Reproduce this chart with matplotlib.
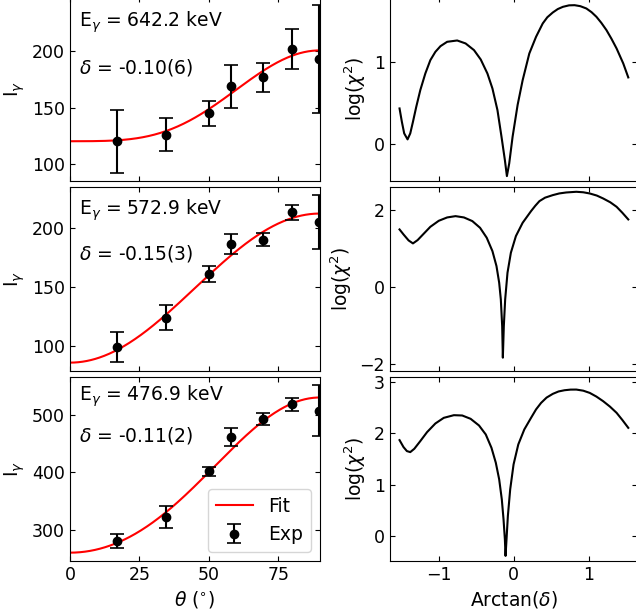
import numpy as np
import matplotlib
matplotlib.use("Agg")
import matplotlib.pyplot as plt

# angular distributions: angles (deg), intensities, errors
theta = [17, 34.5, 50, 58, 69.6, 80, 89.7]

energies = ["642.2", "572.9", "476.9"]
deltas = ["-0.10(6)", "-0.15(3)", "-0.11(2)"]

I_642 = [120, 126, 145, 169, 177, 202, 193]
dI_642 = [28, 14.5, 11, 19, 13, 18, 48]
I_573 = [99.2, 124, 160.8, 186.5, 190.2, 213.3, 205]
dI_573 = [12.7, 10.3, 6.6, 8.8, 5.5, 6.3, 22.6]
I_477 = [281, 322.5, 401.7, 461.2, 491.9, 517.9, 506.4]
dI_477 = [11.6, 19.6, 7.5, 16.2, 10.4, 11.6, 44]

# Legendre fit parameters A0, A0*a2, A0*a4
fit_642 = [163.6, -61.4, 17.8]
fit_573 = [170.1, -84.3, 0.0]
fit_477 = [429.8, -186.6, 17.3]

# chi2 curves: arctan(delta), log(chi2)
atd_642 = [-1.521, -1.490, -1.459, -1.414, -1.378, -1.342, -1.298, -1.244, -1.177, -1.110,
           -1.043, -0.975, -0.886, -0.752, -0.640, -0.528, -0.438, -0.349, -0.282, -0.215,
           -0.161, -0.116, -0.089, -0.058, -0.013, 0.054, 0.121, 0.210, 0.300, 0.389,
           0.450, 0.523, 0.590, 0.658, 0.740, 0.814, 0.890, 0.971, 1.040, 1.105,
           1.170, 1.239, 1.305, 1.374, 1.463, 1.530]
chi_642 = [0.437, 0.275, 0.134, 0.061, 0.134, 0.275, 0.457, 0.660, 0.862, 1.024,
           1.125, 1.194, 1.247, 1.263, 1.227, 1.146, 1.032, 0.862, 0.680, 0.417,
           0.093, -0.190, -0.385, -0.231, 0.093, 0.480, 0.780, 1.105, 1.308, 1.470,
           1.545, 1.603, 1.645, 1.672, 1.690, 1.692, 1.680, 1.652, 1.607, 1.551,
           1.478, 1.389, 1.285, 1.166, 0.984, 0.814]

atd_573 = [-1.521, -1.468, -1.400, -1.342, -1.280, -1.199, -1.110, -0.998, -0.886, -0.774,
           -0.662, -0.550, -0.447, -0.358, -0.282, -0.228, -0.192, -0.170, -0.152, -0.143,
           -0.130, -0.112, -0.081, -0.036, 0.031, 0.121, 0.233, 0.290, 0.345, 0.420,
           0.523, 0.610, 0.702, 0.837, 0.930, 1.016, 1.110, 1.195, 1.290, 1.374,
           1.450, 1.530]
chi_573 = [1.489, 1.359, 1.203, 1.126, 1.212, 1.377, 1.558, 1.714, 1.801, 1.835,
           1.801, 1.706, 1.532, 1.273, 0.926, 0.537, 0.104, -0.329, -1.022, -1.844,
           -1.022, -0.329, 0.364, 0.883, 1.316, 1.662, 1.965, 2.105, 2.225, 2.315,
           2.381, 2.425, 2.450, 2.468, 2.455, 2.424, 2.370, 2.294, 2.195, 2.078,
           1.925, 1.749]

atd_477 = [-1.521, -1.468, -1.423, -1.378, -1.324, -1.244, -1.154, -1.043, -0.931, -0.796,
           -0.685, -0.573, -0.461, -0.371, -0.295, -0.237, -0.192, -0.157, -0.134, -0.116,
           -0.107, -0.094, -0.076, -0.045, 0.000, 0.063, 0.143, 0.233, 0.300, 0.367,
           0.440, 0.523, 0.600, 0.680, 0.760, 0.837, 0.930, 1.016, 1.105, 1.195,
           1.285, 1.374, 1.450, 1.530]
chi_477 = [1.870, 1.734, 1.656, 1.636, 1.701, 1.851, 2.026, 2.195, 2.305, 2.357,
           2.351, 2.286, 2.156, 1.981, 1.721, 1.429, 1.104, 0.714, 0.325, -0.065,
           -0.390, -0.065, 0.390, 0.909, 1.396, 1.786, 2.078, 2.305, 2.470, 2.597,
           2.700, 2.773, 2.820, 2.844, 2.856, 2.857, 2.835, 2.792, 2.720, 2.630,
           2.525, 2.403, 2.265, 2.110]

rows = [
    (I_642, dI_642, fit_642, atd_642, chi_642, (-0.445, 1.79), [100, 150, 200], [0, 1]),
    (I_573, dI_573, fit_573, atd_573, chi_573, (-2.19, 2.59), [100, 150, 200], [-2, 0, 2]),
    (I_477, dI_477, fit_477, atd_477, chi_477, (-0.49, 3.10), [300, 400, 500], [0, 1, 2, 3]),
]
txt_pos = [(0.866, 0.62), (0.875, 0.64), (0.895, 0.685)]

plt.rcParams['font.size'] = 13.5
plt.rcParams['xtick.direction'] = 'in'
plt.rcParams['ytick.direction'] = 'in'
plt.rcParams['xtick.top'] = True
plt.rcParams['ytick.right'] = True
plt.rcParams['xtick.labelsize'] = 12.5
plt.rcParams['ytick.labelsize'] = 12.5

fig = plt.figure(figsize=(6.36, 6.13), dpi=100)
bottoms = [0.7047, 0.3948, 0.0848]
h = 0.300

th = np.linspace(0, 90, 300)
c = np.cos(np.radians(th))
P2 = 0.5 * (3 * c**2 - 1)
P4 = (35 * c**4 - 30 * c**2 + 3) / 8

for i, (I, dI, fit, atd, chi, ylim_r, yt_l, yt_r) in enumerate(rows):
    axl = fig.add_axes([0.110, bottoms[i], 0.393, h])
    axr = fig.add_axes([0.613, bottoms[i], 0.389, h])

    A0, b, cc = fit
    axl.plot(th, A0 + b * P2 + cc * P4, color='red', lw=1.5, label='Fit')
    axl.errorbar(theta, I, yerr=dI, fmt='o', color='black', ms=6,
                 capsize=5, elinewidth=1.5, capthick=1.2, label='Exp')
    axl.set_xlim(0, 90)
    axl.set_ylabel(r'I$_\gamma$')
    axl.text(0.036, txt_pos[i][0], r'E$_\gamma$ = ' + energies[i] + ' keV',
             transform=axl.transAxes, va='center')
    axl.text(0.036, txt_pos[i][1], r'$\delta$ = ' + deltas[i],
             transform=axl.transAxes, va='center')
    axl.set_xticks([0, 25, 50, 75])
    axl.set_yticks(yt_l)

    axr.plot(atd, chi, color='black', lw=1.5)
    axr.set_xlim(-1.65, 1.65)
    axr.set_ylim(*ylim_r)
    axr.set_ylabel(r'log($\chi^2$)')
    axr.set_xticks([-1, 0, 1])
    axr.set_yticks(yt_r)

    if i < 2:
        axl.set_xticklabels([])
        axr.set_xticklabels([])
    else:
        axl.set_xlabel(r'$\theta$ ($^{\circ}$)')
        axr.set_xlabel(r'Arctan($\delta$)')
        axl.legend(loc='lower right')

fig.savefig('out.png', dpi=100)
